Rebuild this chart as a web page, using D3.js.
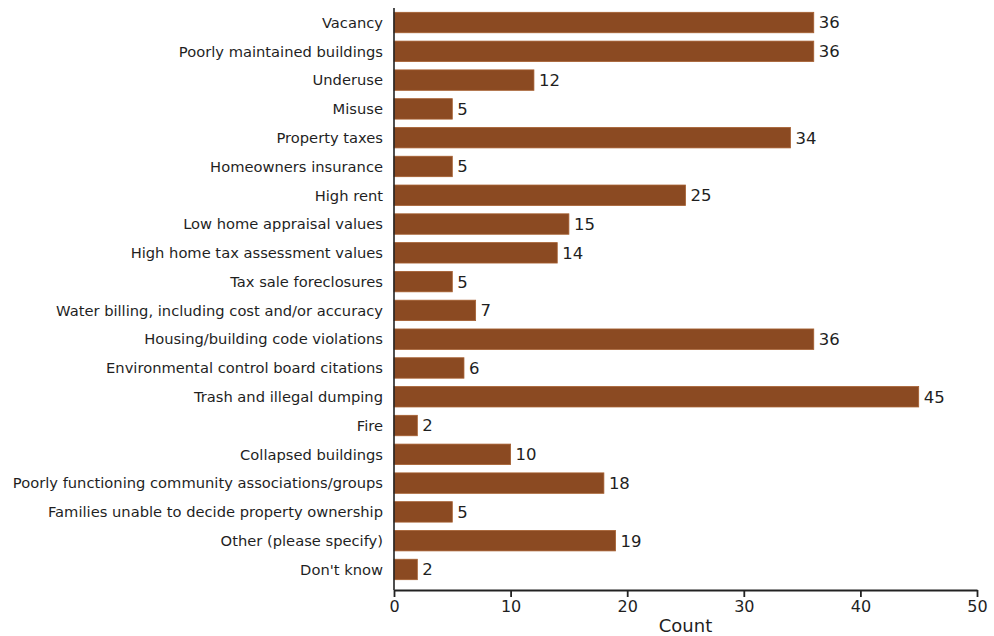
<!DOCTYPE html>
<html>
<head>
<meta charset="utf-8">
<script src="https://cdn.jsdelivr.net/npm/d3@7"></script>
<style>
  html, body { margin: 0; padding: 0; background: #ffffff; }
  svg { display: block; }
</style>
</head>
<body>
<svg id="chart" width="994" height="636"></svg>
<script>
// Issues reported by respondents
const categories = [
  "Vacancy",
  "Poorly maintained buildings",
  "Underuse",
  "Misuse",
  "Property taxes",
  "Homeowners insurance",
  "High rent",
  "Low home appraisal values",
  "High home tax assessment values",
  "Tax sale foreclosures",
  "Water billing, including cost and/or accuracy",
  "Housing/building code violations",
  "Environmental control board citations",
  "Trash and illegal dumping",
  "Fire",
  "Collapsed buildings",
  "Poorly functioning community associations/groups",
  "Families unable to decide property ownership",
  "Other (please specify)",
  "Don't know"
];
const counts = [36, 36, 12, 5, 34, 5, 25, 15, 14, 5, 7, 36, 6, 45, 2, 10, 18, 5, 19, 2];
const xTicks = [0, 10, 20, 30, 40, 50];
const xTitle = "Count";

const fontFamily = "'DejaVu Sans', 'Noto Sans', sans-serif";
const barColor = "#8b4a22";
const textColor = "#1f1f1f";

const svg = d3.select("#chart");
const plotLeft = 394, plotRight = 977, plotTop = 8, plotBottom = 584, axisY = 590;

const x = d3.scaleLinear().domain([0, 50]).range([plotLeft, plotRight]);
const y = d3.scaleBand().domain(categories).range([plotTop, plotBottom]).paddingInner(0.29).paddingOuter(0.15);

const data = categories.map((c, i) => ({ cat: c, val: counts[i] }));

// bars
svg.append("g").selectAll("rect")
  .data(data)
  .join("rect")
  .attr("x", x(0))
  .attr("y", d => y(d.cat))
  .attr("width", d => x(d.val) - x(0))
  .attr("height", y.bandwidth())
  .attr("fill", barColor)
  .attr("stroke", "#a65f30")
  .attr("stroke-width", 0.8);

// value labels at bar ends
svg.append("g").selectAll("text")
  .data(data)
  .join("text")
  .attr("x", d => x(d.val) + 5)
  .attr("y", d => y(d.cat) + y.bandwidth() / 2)
  .attr("dy", "0.36em")
  .attr("font-family", fontFamily)
  .attr("font-size", 16.5)
  .attr("fill", textColor)
  .text(d => d.val);

// category labels
svg.append("g").selectAll("text")
  .data(data)
  .join("text")
  .attr("x", plotLeft - 11)
  .attr("y", d => y(d.cat) + y.bandwidth() / 2)
  .attr("dy", "0.36em")
  .attr("text-anchor", "end")
  .attr("font-family", fontFamily)
  .attr("font-size", 14.7)
  .attr("fill", textColor)
  .text(d => d.cat);

// vertical axis line
svg.append("line")
  .attr("x1", plotLeft).attr("x2", plotLeft)
  .attr("y1", plotTop).attr("y2", axisY)
  .attr("stroke", "#222").attr("stroke-width", 1.6);

// x axis
const xAxis = svg.append("g")
  .attr("transform", `translate(0,${axisY})`)
  .call(d3.axisBottom(x).tickValues(xTicks).tickSize(7).tickPadding(4).tickSizeOuter(0));
xAxis.select(".domain").attr("stroke", "#222").attr("stroke-width", 1.8);
xAxis.selectAll(".tick line").attr("stroke", "#222").attr("stroke-width", 1.8);
xAxis.selectAll(".tick text")
  .attr("font-family", fontFamily)
  .attr("font-size", 16)
  .attr("fill", textColor);

svg.append("text")
  .attr("x", x(25))
  .attr("y", 632)
  .attr("text-anchor", "middle")
  .attr("font-family", fontFamily)
  .attr("font-size", 18)
  .attr("fill", textColor)
  .text(xTitle);
</script>
</body>
</html>
